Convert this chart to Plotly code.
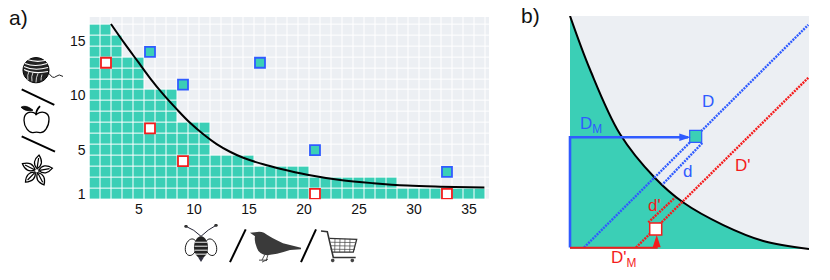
import math, re
import plotly.graph_objects as go

W, H = 830, 280
TEAL = "#3BCFB6"; LIGHT = "#ECEFF3"; BLUE = "#2F5BFF"; RED = "#F41C1C"; FONT = "Liberation Sans"

# ---- panel a data
col_heights = [16,16,15,13,13,10,10,10,7,7,7,4,4,4,4,3,3,3,3,3,2,2,2,2,2,2,2,2,1,1,1,1,1,1,1,1,0]
n_rows = 17
curve_a_x = [2.45,3.7,4.94,6,7.21,8.43,9.64,10.85,12.06,13.27,14.48,16.3,17.82,20.3,23.3,26.3,29.4,32.4,36.4]
curve_a_y = [16.55,14.75,13.05,11.6,10.1,8.75,7.5,6.45,5.55,4.85,4.3,3.7,3.3,2.75,2.27,1.97,1.75,1.65,1.57]
blue_x = [6,9,16,21,33]
blue_y = [14,11,13,5,3]
red_x = [2,6,9,21,33]
red_y = [13,7,4,1,1]
xticks = [5,10,15,20,25,30,35]
yticks = [1,5,10,15]

# ---- panel b data
curve_b_x = [0,20,50,85,113.3,153.3,193.3,239]
curve_b_y = [234.7,180.7,115.7,71.4,46.7,24,8,0]
D_x = [14,238.3];  D_y = [1.4,225.7]
Dp_x = [66,238.3]; Dp_y = [1.4,172.4]
d_x = [132.3,92.3]; d_y = [106.7,64.7]
dp_x = [78.3,105]; dp_y = [26.7,51.7]
DM_x = [0,0,118]; DM_y = [1.4,112.4,112.4]
DpM_x = [0,86.7,86.7]; DpM_y = [1.2,1.2,10]
pt_b_blue = (125.7,113.4)
pt_b_red = (85.7,20)
arrow_blue = (120.7,112.4)
arrow_red = (86.7,14)

def dom_x(a,b): return [a/W,b/W]
def dom_y(top,bot): return [1-bot/H,1-top/H]

fig = go.Figure()
z = [[1 if r < h else 0 for h in col_heights] for r in range(n_rows)]
fig.add_trace(go.Heatmap(x=list(range(1,len(col_heights)+1)), y=list(range(1,n_rows+1)), z=z,
    colorscale=[[0,LIGHT],[1,TEAL]], showscale=False, xgap=1, ygap=1, zmin=0, zmax=1, hoverinfo="skip"))
fig.add_trace(go.Scatter(x=curve_a_x,y=curve_a_y,mode="lines",line=dict(color="black",width=2,shape="spline"),cliponaxis=False))
fig.add_trace(go.Scatter(x=blue_x,y=blue_y,mode="markers",marker=dict(symbol="square",size=10,color=TEAL,line=dict(color=BLUE,width=1.8))))
fig.add_trace(go.Scatter(x=red_x,y=red_y,mode="markers",marker=dict(symbol="square",size=10,color="white",line=dict(color=RED,width=1.8))))

b = dict(xaxis="x2",yaxis="y2",showlegend=False,cliponaxis=False,hoverinfo="skip")
fig.add_trace(go.Scatter(x=curve_b_x,y=curve_b_y,mode="lines",fill="tozeroy",fillcolor=TEAL,line=dict(color="black",width=2,shape="spline"),**b))
DOT = "2px,1px"
for xs,ys,c in [(D_x,D_y,BLUE),(Dp_x,Dp_y,RED),(d_x,d_y,BLUE),(dp_x,dp_y,RED)]:
    fig.add_trace(go.Scatter(x=xs,y=ys,mode="lines",line=dict(color=c,width=2.4,dash=DOT),**b))
fig.add_trace(go.Scatter(x=[pt_b_blue[0]],y=[pt_b_blue[1]],mode="markers",marker=dict(symbol="square",size=12,color=TEAL,line=dict(color=BLUE,width=1.2)),**b))
fig.add_trace(go.Scatter(x=[pt_b_red[0]],y=[pt_b_red[1]],mode="markers",marker=dict(symbol="square",size=12,color="white",line=dict(color=RED,width=1.5)),**b))
fig.add_trace(go.Scatter(x=DM_x,y=DM_y,mode="lines",line=dict(color=BLUE,width=2.6),**b))
fig.add_trace(go.Scatter(x=DpM_x,y=DpM_y,mode="lines",line=dict(color=RED,width=2),**b))
fig.add_trace(go.Scatter(x=[arrow_blue[0]],y=[arrow_blue[1]],mode="markers",marker=dict(symbol="arrow",angle=90,size=12,color=BLUE,line=dict(width=0)),**b))
fig.add_trace(go.Scatter(x=[arrow_red[0]],y=[arrow_red[1]],mode="markers",marker=dict(symbol="arrow",angle=0,size=13,color=RED,line=dict(width=0)),**b))

# ---- icons (pixel paths turned into paper coords)
def px(path):
    i = [0]
    def rep(m):
        v = float(m.group(0)); k = i[0]; i[0] += 1
        return f"{v/W:.5f}" if k % 2 == 0 else f"{1-v/H:.5f}"
    return re.sub(r"-?\d+\.?\d*", rep, path)
shapes = []
def S(path, fill=None, line="black", w=1.0):
    shapes.append(dict(type="path", xref="paper", yref="paper", path=px(path), layer="above",
        fillcolor=fill if fill else "rgba(0,0,0,0)",
        line=dict(color=line if line else "rgba(0,0,0,0)", width=w)))
def ell(cx,cy,rx,ry,rot=0,n=28):
    c,s = math.cos(rot),math.sin(rot); pts=[]
    for t in range(n):
        a=2*math.pi*t/n; x=rx*math.cos(a); y=ry*math.sin(a)
        pts.append((cx+x*c-y*s, cy+x*s+y*c))
    return "M "+" L ".join(f"{x:.2f} {y:.2f}" for x,y in pts)+" Z"
def seg(a,b,c,d,w=2.0,col="black"): S(f"M {a} {b} L {c} {d}",None,col,w)

# slashes
seg(21.7,90,54.3,105.7); seg(21.7,137.3,55,152.7); seg(245.7,231,230,264); seg(316,231,301,264)

# yarn
S(ell(36,70.7,13,12.7),"#222","black",1)
for a,b,c,d,e,f in [(25,64,35,68,47,64),(24,67,34,72,48,68),(24,70,34,75,48,72),(27,60,36,63,45,61)]:
    S(f"M {a} {b} Q {c} {d} {e} {f}",None,"white",1.1)
for a,b,c,d,e,f in [(28,81,27,75,29,72),(32,82,31,77,33,73),(36,83,36,78,38,74),(41,81,41,78,42,75)]:
    S(f"M {a} {b} Q {c} {d} {e} {f}",None,"white",0.8)
S("M 49 74 Q 53 80 56 77 Q 59 74 63 77",None,"#222",1)

# apple
S("M 36.5 115 C 31 111 24 113 24 121 C 24 128 29 134 33 133.5 C 35 133 38 133 40 133.5 C 44 134 49 128 49 120 C 49 113 42 111 36.5 115 Z","white","black",1.3)
S("M 21 108 Q 26 105 33 111 Q 26 113 21 108 Z","#111","black",0.8)
S("M 36 116 Q 36 111 40 107",None,"black",1.8)

# flower
cx,cy = 36.7,172
for i in range(5):
    a = -math.pi/2+0.15+i*2*math.pi/5
    ca,sa = math.cos(a),math.sin(a)
    def R(u,v): return f"{cx+u*ca-v*sa:.2f} {cy+u*sa+v*ca:.2f}"
    S(f"M {R(2,0)} Q {R(8,7)} {R(16,0)} Q {R(8,-7)} {R(2,0)} Z","white","black",1.2)
    S(f"M {R(3,0)} L {R(13,0)}",None,"black",1.2)
S(ell(cx,cy,2,2),"white","black",0.8)

# bee
S("M 201 238 Q 194 231 186 228",None,"#223",1); S("M 201 238 Q 208 231 216 227",None,"#223",1)
S(ell(186,228,1.8,1.5),"#333",None); S(ell(216,227,1.8,1.5),"#333",None)
S(ell(191,249,5.5,8.5,0.25),"white","black",0.9); S(ell(211,249,5.5,8.5,-0.25),"white","black",0.9)
S(ell(201,249,7,11),"#222",None)
for yy in (244,248,252,256): seg(194.5,yy,207.5,yy,1.1,"#ddd")
S("M 198 259 L 201 264 L 204 259 Z","#334",None)

# bird
S("M 250 234.3 L 255 234 Q 260 232.5 264 234.5 Q 270 239 283 245 L 301 249.5 L 301 251 L 290 251.7 Q 283 254 277 255.5 L 267 257 Q 259 256 257 250 Q 254 243 255 238 Z","#3a3a3a",None)
S("M 265 256 L 262 262 M 268 256.5 L 266 263 M 259 262 L 267 262 M 262 264 L 268 261",None,"#3a3a3a",0.9)

# cart
S("M 321 232.7 L 327.3 233.3 L 333.3 259.3 L 355.7 259.3",None,"#333",1.6)
S("M 329.3 240 L 356.7 241 L 353.3 254 L 332.3 254",None,"#333",1.3)
for xx in (335,340,345,350): seg(xx,240.5,xx-0.3,254,0.7,"#444")
for yy in (244,247.5,251): seg(330.5,yy,355,yy+0.3,0.7,"#444")
S(ell(332.7,262.3,1.8,1.8),"#444",None); S(ell(352.3,262.3,1.8,1.8),"#444",None)

# light background of panel b
shapes.insert(0, dict(type="rect",xref="x2",yref="y2",x0=0,x1=239,y0=0,y1=234.7,fillcolor=LIGHT,line=dict(width=0),layer="below"))

def T(x,y,t,c,size=17):
    return dict(xref="paper",yref="paper",x=x/W,y=1-y/H,text=t,showarrow=False,xanchor="center",yanchor="middle",
                font=dict(family=FONT,size=size,color=c))
anns = [T(18,18,"a)","#111",21),T(530,16,"b)","#111",21),
        T(708,102.7,"D",BLUE),T(591,126,"D<sub>M</sub>",BLUE),T(687.7,173,"d",BLUE),
        T(743,167,"D'",RED),T(654,207,"d'",RED),T(623,261,"D'<sub>M</sub>",RED)]

ax = dict(showgrid=False,zeroline=False,showline=False,ticks="",tickfont=dict(family=FONT,size=14,color="#111"))
fig.update_layout(width=W,height=H,margin=dict(l=0,r=0,t=0,b=0),paper_bgcolor="white",plot_bgcolor="white",
    showlegend=False,shapes=shapes,annotations=anns,
    xaxis=dict(ax,domain=dom_x(89.5,489),range=[0.5,36.82],tickvals=xticks,anchor="y"),
    yaxis=dict(ax,domain=dom_y(17,200.7),range=[0.5,17.2],tickvals=yticks,anchor="x",ticklabelstandoff=3),
    xaxis2=dict(ax,domain=dom_x(566,809),range=[-4,239],visible=False,anchor="y2"),
    yaxis2=dict(ax,domain=dom_y(16,254.7),range=[-4,234.7],visible=False,anchor="x2"))
fig.write_html("out.html", config=dict(displayModeBar=False),
               post_script="document.body.style.margin='0';document.documentElement.style.overflow='hidden';")
